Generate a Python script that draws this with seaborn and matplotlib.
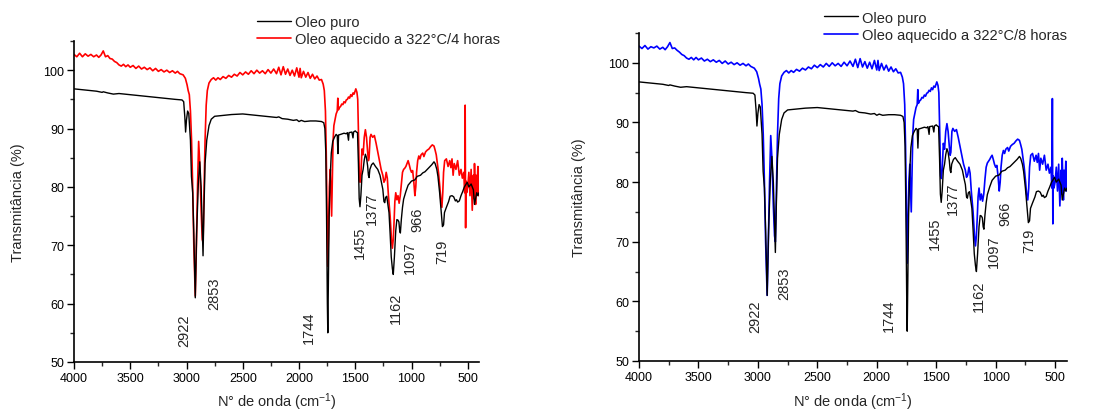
import matplotlib
matplotlib.use("Agg")
import matplotlib.pyplot as plt
import seaborn as sns
import pandas as pd
from matplotlib.ticker import MultipleLocator

# ---------------- data ----------------
puro_x = [4000, 3900, 3800, 3750, 3740, 3700, 3650, 3600, 3500, 3400, 3300, 3200, 3100, 3040,
          3025, 3015, 3008, 3000, 2990, 2980, 2965, 2956, 2945, 2935, 2922, 2910, 2895, 2882,
          2870, 2860, 2853, 2845, 2835, 2820, 2800, 2780, 2750, 2700, 2600, 2500, 2400, 2300,
          2200, 2180, 2150, 2100, 2050, 2020, 2000, 1980, 1950, 1900, 1850, 1800, 1780, 1770,
          1762, 1755, 1748, 1744, 1740, 1732, 1722, 1713, 1700, 1685, 1670, 1660, 1654, 1648,
          1630, 1600, 1580, 1570, 1560, 1555, 1530, 1520, 1515, 1500, 1490, 1480, 1472, 1465,
          1458, 1450, 1440, 1430, 1420, 1410, 1400, 1390, 1383, 1377, 1370, 1355, 1340, 1320,
          1300, 1280, 1265, 1255, 1245, 1238, 1230, 1220, 1210, 1200, 1190, 1180, 1170, 1162,
          1152, 1140, 1130, 1120, 1112, 1105, 1099, 1090, 1080, 1070, 1050, 1030, 1000, 970,
          950, 920, 900, 880, 860, 840, 820, 800, 790, 775, 765, 750, 735, 725, 715, 707, 690,
          670, 657, 640, 625, 610, 600, 590, 575, 560, 545, 530, 520, 505, 490, 470, 450, 440,
          430, 420, 410, 400]
puro_y = [96.8, 96.6, 96.4, 96.2, 96.3, 96.1, 95.9, 96.0, 95.8, 95.6, 95.4, 95.2, 95.0, 94.9,
          94.6, 92.0, 89.4, 91.5, 93.0, 92.6, 88.0, 81.8, 79.0, 72.0, 61.0, 72.0, 80.5, 84.3,
          80.0, 73.0, 68.2, 76.0, 84.0, 88.0, 90.5, 91.6, 92.1, 92.2, 92.4, 92.5, 92.3, 92.1,
          91.9, 92.0, 91.7, 91.6, 91.4, 91.5, 91.2, 91.4, 91.2, 91.3, 91.3, 91.2, 91.0, 90.0,
          86.0, 75.0, 60.0, 55.0, 62.0, 75.0, 82.0, 85.8, 87.8, 88.5, 89.0, 88.8, 85.7, 88.9,
          89.0, 89.2, 89.1, 89.3, 88.0, 89.3, 89.4, 88.4, 89.4, 89.6, 89.4, 89.3, 84.0, 78.0,
          76.6, 78.5, 82.0, 83.0, 84.6, 85.6, 85.0, 83.6, 82.0, 81.6, 83.0, 83.8, 84.1, 83.5,
          83.0, 82.0, 80.5, 79.6, 77.5, 77.3, 78.2, 78.4, 77.0, 75.6, 72.0, 68.0, 66.0, 65.0,
          68.0, 72.5, 74.4, 74.3, 74.0, 72.5, 72.1, 74.5, 76.5, 77.9, 79.2, 80.3, 81.0, 81.2,
          81.8, 82.0, 82.4, 82.6, 83.0, 83.4, 83.8, 84.3, 84.0, 83.0, 81.8, 79.0, 75.5, 73.2,
          73.5, 75.6, 76.5, 77.5, 78.4, 78.5, 78.3, 77.6, 77.8, 77.4, 77.6, 78.5, 79.2, 80.0,
          80.3, 80.8, 80.0, 80.5, 79.5, 77.0, 78.0, 79.0, 78.5, 79.0]

heat_x = [4000, 3975, 3950, 3925, 3900, 3875, 3850, 3825, 3800, 3780, 3760, 3740, 3720, 3700,
          3680, 3660, 3640, 3620, 3600, 3580, 3560, 3540, 3520, 3500, 3475, 3450, 3425, 3400,
          3375, 3350, 3325, 3300, 3275, 3250, 3225, 3200, 3175, 3150, 3125, 3100, 3080, 3060,
          3030, 3010, 2995, 2985, 2975, 2965, 2955, 2945, 2935, 2922, 2912, 2902, 2892, 2882,
          2870, 2860, 2853, 2845, 2835, 2825, 2815, 2800, 2780, 2760, 2740, 2720, 2700, 2675,
          2650, 2625, 2600, 2575, 2550, 2525, 2500, 2475, 2450, 2425, 2400, 2375, 2350, 2325,
          2300, 2275, 2250, 2225, 2200, 2180, 2160, 2140, 2120, 2100, 2080, 2060, 2040, 2020,
          2000, 1990, 1980, 1960, 1940, 1920, 1900, 1880, 1860, 1840, 1820, 1800, 1785, 1775,
          1765, 1758, 1750, 1744, 1738, 1730, 1722, 1716, 1710, 1704, 1697, 1690, 1680, 1670,
          1660, 1655, 1650, 1640, 1630, 1620, 1610, 1600, 1590, 1580, 1570, 1560, 1550, 1540,
          1530, 1520, 1510, 1495, 1485, 1478, 1470, 1463, 1457, 1450, 1440, 1430, 1420, 1410,
          1400, 1390, 1383, 1377, 1368, 1360, 1345, 1330, 1315, 1300, 1285, 1270, 1255, 1245,
          1235, 1225, 1215, 1205, 1190, 1178, 1170, 1162, 1155, 1148, 1140, 1130, 1120, 1110,
          1100, 1090, 1080, 1070, 1060, 1050, 1040, 1030, 1020, 1010, 1000, 990, 980, 970, 962,
          955, 945, 935, 925, 915, 900, 890, 875, 860, 845, 830, 815, 800, 790, 780, 770, 760,
          748, 740, 730, 722, 715, 705, 690, 675, 660, 650, 640, 630, 620, 605, 590, 575, 560,
          548, 535, 527, 523, 519, 516, 510, 500, 490, 480, 470, 460, 450, 445, 440, 430, 425,
          418, 410, 405, 400]
heat4_y = [102.7, 102.3, 102.9, 102.3, 102.8, 102.4, 102.7, 102.3, 102.6, 102.2, 102.6, 103.3,
           102.3, 102.5, 102.0, 101.9, 101.5, 101.3, 100.9, 100.7, 101.0, 100.6, 100.9, 100.5,
           100.8, 100.3, 100.7, 100.2, 100.5, 100.1, 100.4, 99.9, 100.3, 99.8, 100.1, 99.7,
           100.0, 99.6, 99.9, 99.5, 99.8, 99.4, 99.2, 98.6, 97.5, 96.5, 95.8, 93.0, 88.0, 80.0,
           70.0, 61.3, 70.0, 80.0, 87.8, 84.0, 76.0, 71.0, 70.5, 78.0, 88.0, 94.0, 96.5, 97.8,
           98.4, 98.7, 98.3, 98.7, 98.4, 98.9, 98.6, 99.1, 98.8, 99.3, 99.0, 99.6, 99.2, 99.7,
           99.3, 99.9, 99.4, 100.0, 99.5, 99.9, 99.4, 100.1, 99.5, 100.2, 99.4, 100.5, 99.2,
           100.6, 99.3, 100.2, 99.1, 100.0, 99.0, 100.4, 98.8, 100.3, 98.7, 99.8, 98.8, 99.6,
           98.6, 99.3, 98.5, 99.0, 98.3, 98.4, 97.6, 96.5, 93.0, 86.0, 75.0, 66.4, 72.0, 80.0,
           83.0, 79.0, 75.0, 81.0, 88.0, 90.5, 91.5, 92.5, 93.0, 95.2, 93.2, 93.6, 93.8, 94.2,
           94.1, 94.6, 94.4, 94.9, 95.0, 95.4, 95.2, 95.8, 95.5, 96.1, 95.9, 96.8, 96.2, 95.0,
           88.0, 81.0, 80.8, 82.0, 86.5, 85.5, 88.5, 89.8, 88.5, 86.0, 84.5, 85.0, 88.5, 89.0,
           88.5, 88.8, 87.5, 86.0, 84.5, 83.0, 82.0, 80.8, 81.2, 82.5, 81.5, 78.5, 75.0, 71.0,
           69.5, 71.0, 74.0, 77.5, 79.0, 77.8, 78.5, 77.2, 78.5, 80.5, 82.5, 83.0, 83.2, 83.5,
           84.0, 84.5, 83.8, 83.0, 82.5, 82.8, 81.0, 78.5, 80.0, 82.5, 84.5, 85.3, 84.8, 85.5,
           85.8, 85.2, 86.0, 86.3, 86.5, 86.9, 87.2, 87.0, 86.3, 85.5, 84.0, 82.5, 80.0, 78.0,
           76.5, 79.0, 82.5, 84.5, 84.8, 83.5, 84.5, 83.3, 84.8, 82.0, 84.0, 83.0, 84.5, 82.0,
           83.0, 81.5, 82.5, 79.0, 94.0, 73.0, 81.0, 79.0, 80.0, 82.5, 78.5, 83.0, 76.0, 82.0,
           78.0, 84.0, 77.0, 82.0, 79.0, 83.5, 78.5, 81.0]
heat8_y = [102.8, 102.4, 102.9, 102.3, 102.7, 102.5, 102.8, 102.3, 102.6, 102.2, 102.7, 103.4,
           102.4, 102.5, 102.1, 101.8, 101.4, 101.2, 100.8, 100.6, 100.9, 100.5, 100.9, 100.5,
           100.8, 100.3, 100.6, 100.2, 100.5, 100.1, 100.4, 99.9, 100.3, 99.8, 100.1, 99.7,
           100.0, 99.6, 99.9, 99.5, 99.8, 99.4, 99.1, 98.5, 97.4, 96.4, 95.6, 93.0, 88.0, 80.0,
           70.0, 61.0, 70.0, 80.0, 87.8, 84.0, 76.0, 71.0, 70.0, 78.0, 88.0, 94.0, 96.5, 97.8,
           98.4, 98.7, 98.3, 98.7, 98.4, 98.9, 98.6, 99.1, 98.8, 99.3, 99.0, 99.6, 99.2, 99.7,
           99.3, 99.9, 99.4, 100.0, 99.5, 99.9, 99.4, 100.1, 99.5, 100.3, 99.4, 100.6, 99.2,
           100.7, 99.3, 100.2, 99.1, 100.1, 99.0, 100.4, 98.8, 100.4, 98.7, 99.9, 98.8, 99.6,
           98.6, 99.3, 98.5, 99.0, 98.3, 98.4, 97.6, 96.5, 93.0, 86.0, 75.0, 66.4, 72.0, 80.0,
           83.0, 79.0, 75.0, 81.0, 88.0, 90.5, 91.5, 92.5, 93.0, 95.5, 93.2, 93.6, 93.8, 94.2,
           94.1, 94.6, 94.4, 94.9, 95.0, 95.4, 95.2, 95.8, 95.5, 96.1, 95.9, 96.8, 96.2, 95.0,
           88.0, 81.0, 80.6, 82.0, 86.5, 85.5, 88.5, 89.8, 88.5, 86.0, 84.5, 85.0, 88.5, 89.0,
           88.5, 88.8, 87.5, 86.0, 84.5, 83.0, 82.0, 80.8, 81.2, 82.5, 81.5, 78.5, 75.0, 71.0,
           69.3, 71.0, 74.0, 77.5, 79.0, 77.0, 78.0, 76.8, 78.0, 80.5, 82.5, 83.2, 83.5, 83.8,
           84.2, 84.5, 83.8, 83.0, 82.5, 82.8, 81.0, 78.5, 80.0, 82.5, 84.5, 85.3, 84.8, 85.5,
           85.8, 85.2, 86.0, 86.3, 86.5, 86.9, 87.2, 87.0, 86.3, 85.5, 84.0, 82.5, 80.0, 78.0,
           77.0, 79.0, 82.5, 84.5, 84.8, 83.5, 84.5, 83.3, 84.8, 82.0, 84.0, 83.0, 84.5, 82.0,
           83.0, 81.5, 82.5, 79.0, 94.0, 73.0, 81.0, 79.0, 80.0, 82.5, 78.5, 83.0, 76.0, 82.0,
           78.0, 84.0, 77.0, 82.0, 79.0, 83.5, 78.5, 81.0]

peak_labels = ["2922", "2853", "1744", "1455", "1377", "1162", "1097", "966", "719"]
label_pos_left = [(3021, 52.7), (2749, 59.1), (1914, 53.3), (1462, 67.9), (1349, 73.7),
                  (1136, 56.7), (1018, 65.2), (944, 72.4), (728, 67.0)]
label_pos_right = [(3020, 54.8), (2777, 60.4), (1900, 55.0), (1511, 68.8), (1363, 74.7),
                   (1144, 58.4), (1018, 65.8), (915, 72.8), (719, 68.3)]

series_names = ["Oleo puro", "Oleo aquecido a 322°C/4 horas", "Oleo aquecido a 322°C/8 horas"]

# ---------------- style ----------------
sns.set_style("ticks")
plt.rcParams["font.family"] = ["Liberation Sans", "DejaVu Sans"]
plt.rcParams["mathtext.fontset"] = "custom"
plt.rcParams["mathtext.rm"] = "Liberation Sans"
plt.rcParams["mathtext.it"] = "Liberation Sans"

fig = plt.figure(figsize=(11.06, 4.14), dpi=100)
ax1 = fig.add_axes([74 / 1106, 1 - 363 / 414, 405 / 1106, 321 / 414])
ax2 = fig.add_axes([639 / 1106, 1 - 362 / 414, 428 / 1106, 328 / 414])

panels = [
    (ax1, heat4_y, series_names[1], "#ff0000", label_pos_left, (257 / 1106, 0.962), -0.121),
    (ax2, heat8_y, series_names[2], "#0000ff", label_pos_right, (824 / 1106, 0.972), -0.124),
]

for ax, hy, hname, hcol, lpos, legpos, ylab_x in panels:
    sns.lineplot(x=puro_x, y=puro_y, ax=ax, color="black", lw=1.0, sort=False,
                 estimator=None, label=series_names[0])
    sns.lineplot(x=heat_x, y=hy, ax=ax, color=hcol, lw=1.2, sort=False,
                 estimator=None, label=hname)
    ax.lines[0].set_zorder(3)
    ax.lines[1].set_zorder(2)

    ax.set_xlim(4000, 400)
    ax.set_ylim(50, 105)
    ax.xaxis.set_major_locator(MultipleLocator(500))
    ax.xaxis.set_minor_locator(MultipleLocator(250))
    ax.yaxis.set_major_locator(MultipleLocator(10))
    ax.yaxis.set_minor_locator(MultipleLocator(5))
    ax.tick_params(which="major", direction="out", length=5, width=1.0, labelsize=9,
                   colors="black", pad=2)
    ax.tick_params(which="minor", direction="out", length=3, width=1.0)
    for s in ["top", "right"]:
        ax.spines[s].set_visible(False)
    for s in ["left", "bottom"]:
        ax.spines[s].set_linewidth(1.2)
        ax.spines[s].set_color("black")

    ax.set_ylabel("Transmitância (%)", fontsize=10.5)
    ax.yaxis.set_label_coords(ylab_x, 0.5)
    ax.set_xlabel("N° de onda (cm$^{\\mathregular{-1}}$)", fontsize=10.5)
    ax.xaxis.set_label_coords(0.5, -0.09)

    for lab, (px, py) in zip(peak_labels, lpos):
        ax.text(px, py, lab, rotation=90, ha="center", va="bottom", fontsize=10.5)

    ax.legend_.remove()
    h, l = ax.get_legend_handles_labels()
    fig.legend(h, l, loc="upper left", bbox_to_anchor=legpos,
               bbox_transform=fig.transFigure, frameon=False, fontsize=10.5,
               handlelength=2.3, handletextpad=0.3, labelspacing=0.25,
               borderpad=0, borderaxespad=0)

fig.savefig("out.png", dpi=100)
